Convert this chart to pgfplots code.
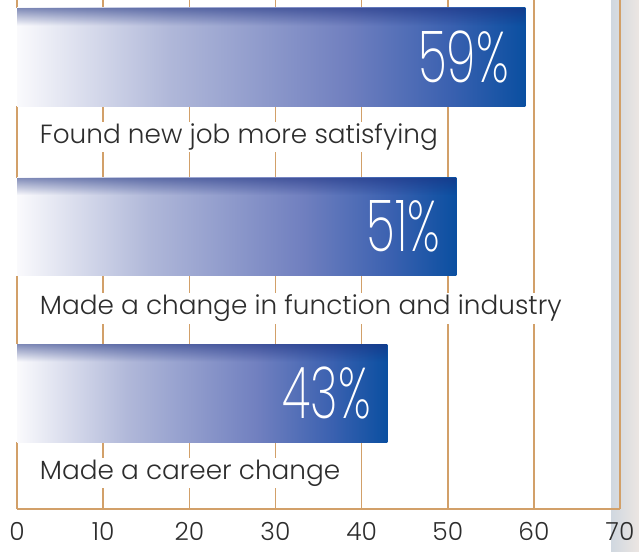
\documentclass[border=0pt]{standalone}
\usepackage{pgfplots}
\pgfplotsset{compat=1.18}
\usetikzlibrary{fadings}
\usepackage{graphicx}
\usepackage{fontspec}
\setmainfont{Poppins}[UprightFont={* Light}]
\newfontfamily\pctfont{Poppins}[UprightFont={* ExtraLight}]
\definecolor{gridc}{RGB}{210,160,105}
\definecolor{txt}{RGB}{45,45,45}
\definecolor{stripL}{RGB}{208,216,224}
\definecolor{stripR}{RGB}{236,230,226}
\definecolor{topc}{RGB}{25,45,125}
\pgfdeclarehorizontalshading{barshade}{100bp}{%
  rgb(0bp)=(0.98,0.98,0.99); rgb(25bp)=(0.98,0.98,0.99);
  rgb(40bp)=(0.69,0.72,0.85); rgb(57.5bp)=(0.44,0.50,0.75);
  rgb(67.5bp)=(0.23,0.38,0.69); rgb(75bp)=(0.04,0.31,0.63);
  rgb(100bp)=(0.04,0.31,0.63)}
\pgfdeclareverticalshading{topfadeshade}{100bp}{%
  color(0bp)=(black); color(66bp)=(black);
  color(75bp)=(white!55!black); color(100bp)=(white!55!black)}
\pgfdeclarefading{topfade}{\pgfuseshading{topfadeshade}}
\pgfplotsset{
  mybase/.style={xbar, bar width=98bp, bar shift=0pt, draw=none, fill=white, forget plot},
  mybar/.style={xbar, bar width=98bp, bar shift=0pt, draw=none, shading=barshade,
    point meta=x,
    nodes near coords={\scalebox{0.66}[1]{\pgfmathprintnumber{\pgfplotspointmeta}\%}},
    every node near coord/.append style={anchor=east, text=white, xshift=-13bp,
      font=\pctfont\fontsize{72}{72}\selectfont}},
  mytop/.style={xbar, bar width=98bp, bar shift=0pt, draw=none, fill=topc,
    path fading=topfade, forget plot},
  mygrid/.style={draw=gridc, line width=1.6bp, mark=none, unbounded coords=jump, forget plot},
}
\begin{document}
\begin{tikzpicture}
\fill[left color=stripL, right color=stripR] (594bp,-42bp) rectangle (622bp,509bp);
\begin{axis}[
  anchor=south west, at={(0,0)},
  scale only axis, width=603bp, height=509bp,
  xmin=0, xmax=70, ymin=0, ymax=509,
  clip=false,
  axis x line*=bottom, axis y line=none,
  x axis line style={draw=gridc, line width=2bp, -},
  xtick={0,10,...,70}, major tick length=0pt,
  ytick=\empty,
  xticklabel style={font=\fontsize{25}{25}\selectfont, text=txt, yshift=-10bp},
  /pgf/number format/assume math mode=true,
]
% vertical grid lines, interrupted where the bars lie
\addplot[mygrid] coordinates {(0,0) (0,67) (0,nan) (0,165) (0,233.5) (0,nan) (0,331.5) (0,403) (0,nan) (0,501) (0,509)};
\addplot[mygrid] coordinates {(10,0) (10,67) (10,nan) (10,165) (10,233.5) (10,nan) (10,331.5) (10,403) (10,nan) (10,501) (10,509)};
\addplot[mygrid] coordinates {(20,0) (20,67) (20,nan) (20,165) (20,233.5) (20,nan) (20,331.5) (20,403) (20,nan) (20,501) (20,509)};
\addplot[mygrid] coordinates {(30,0) (30,67) (30,nan) (30,165) (30,233.5) (30,nan) (30,331.5) (30,403) (30,nan) (30,501) (30,509)};
\addplot[mygrid] coordinates {(40,0) (40,67) (40,nan) (40,165) (40,233.5) (40,nan) (40,331.5) (40,403) (40,nan) (40,501) (40,509)};
\addplot[mygrid] coordinates {(50,0) (50,233.5) (50,nan) (50,331.5) (50,403) (50,nan) (50,501) (50,509)};
\addplot[mygrid] coordinates {(60,0) (60,509)};
\addplot[mygrid] coordinates {(70,0) (70,509)};
\addplot[mybase] coordinates {(59,452)};
\addplot[mybar] coordinates {(59,452)};
\addplot[mytop] coordinates {(59,452)};
\addplot[mybase] coordinates {(51,282.5)};
\addplot[mybar] coordinates {(51,282.5)};
\addplot[mytop] coordinates {(51,282.5)};
\addplot[mybase] coordinates {(43,116)};
\addplot[mybar] coordinates {(43,116)};
\addplot[mytop] coordinates {(43,116)};
\node[anchor=west, fill=white, inner sep=2bp, text=txt, font=\fontsize{26.4}{26.4}\selectfont] at (axis cs:2.4,372) {Found new job more satisfying};
\node[anchor=west, fill=white, inner sep=2bp, text=txt, font=\fontsize{26.4}{26.4}\selectfont] at (axis cs:2.4,201) {Made a change in function and industry};
\node[anchor=west, fill=white, inner sep=2bp, text=txt, font=\fontsize{26.4}{26.4}\selectfont] at (axis cs:2.4,36) {Made a career change};
\coordinate (bbA) at (axis cs:-1.974,-42);
\coordinate (bbB) at (axis cs:72.2,509);
\end{axis}
\pgfresetboundingbox
\path (bbA) rectangle (bbB);
\end{tikzpicture}
\end{document}
